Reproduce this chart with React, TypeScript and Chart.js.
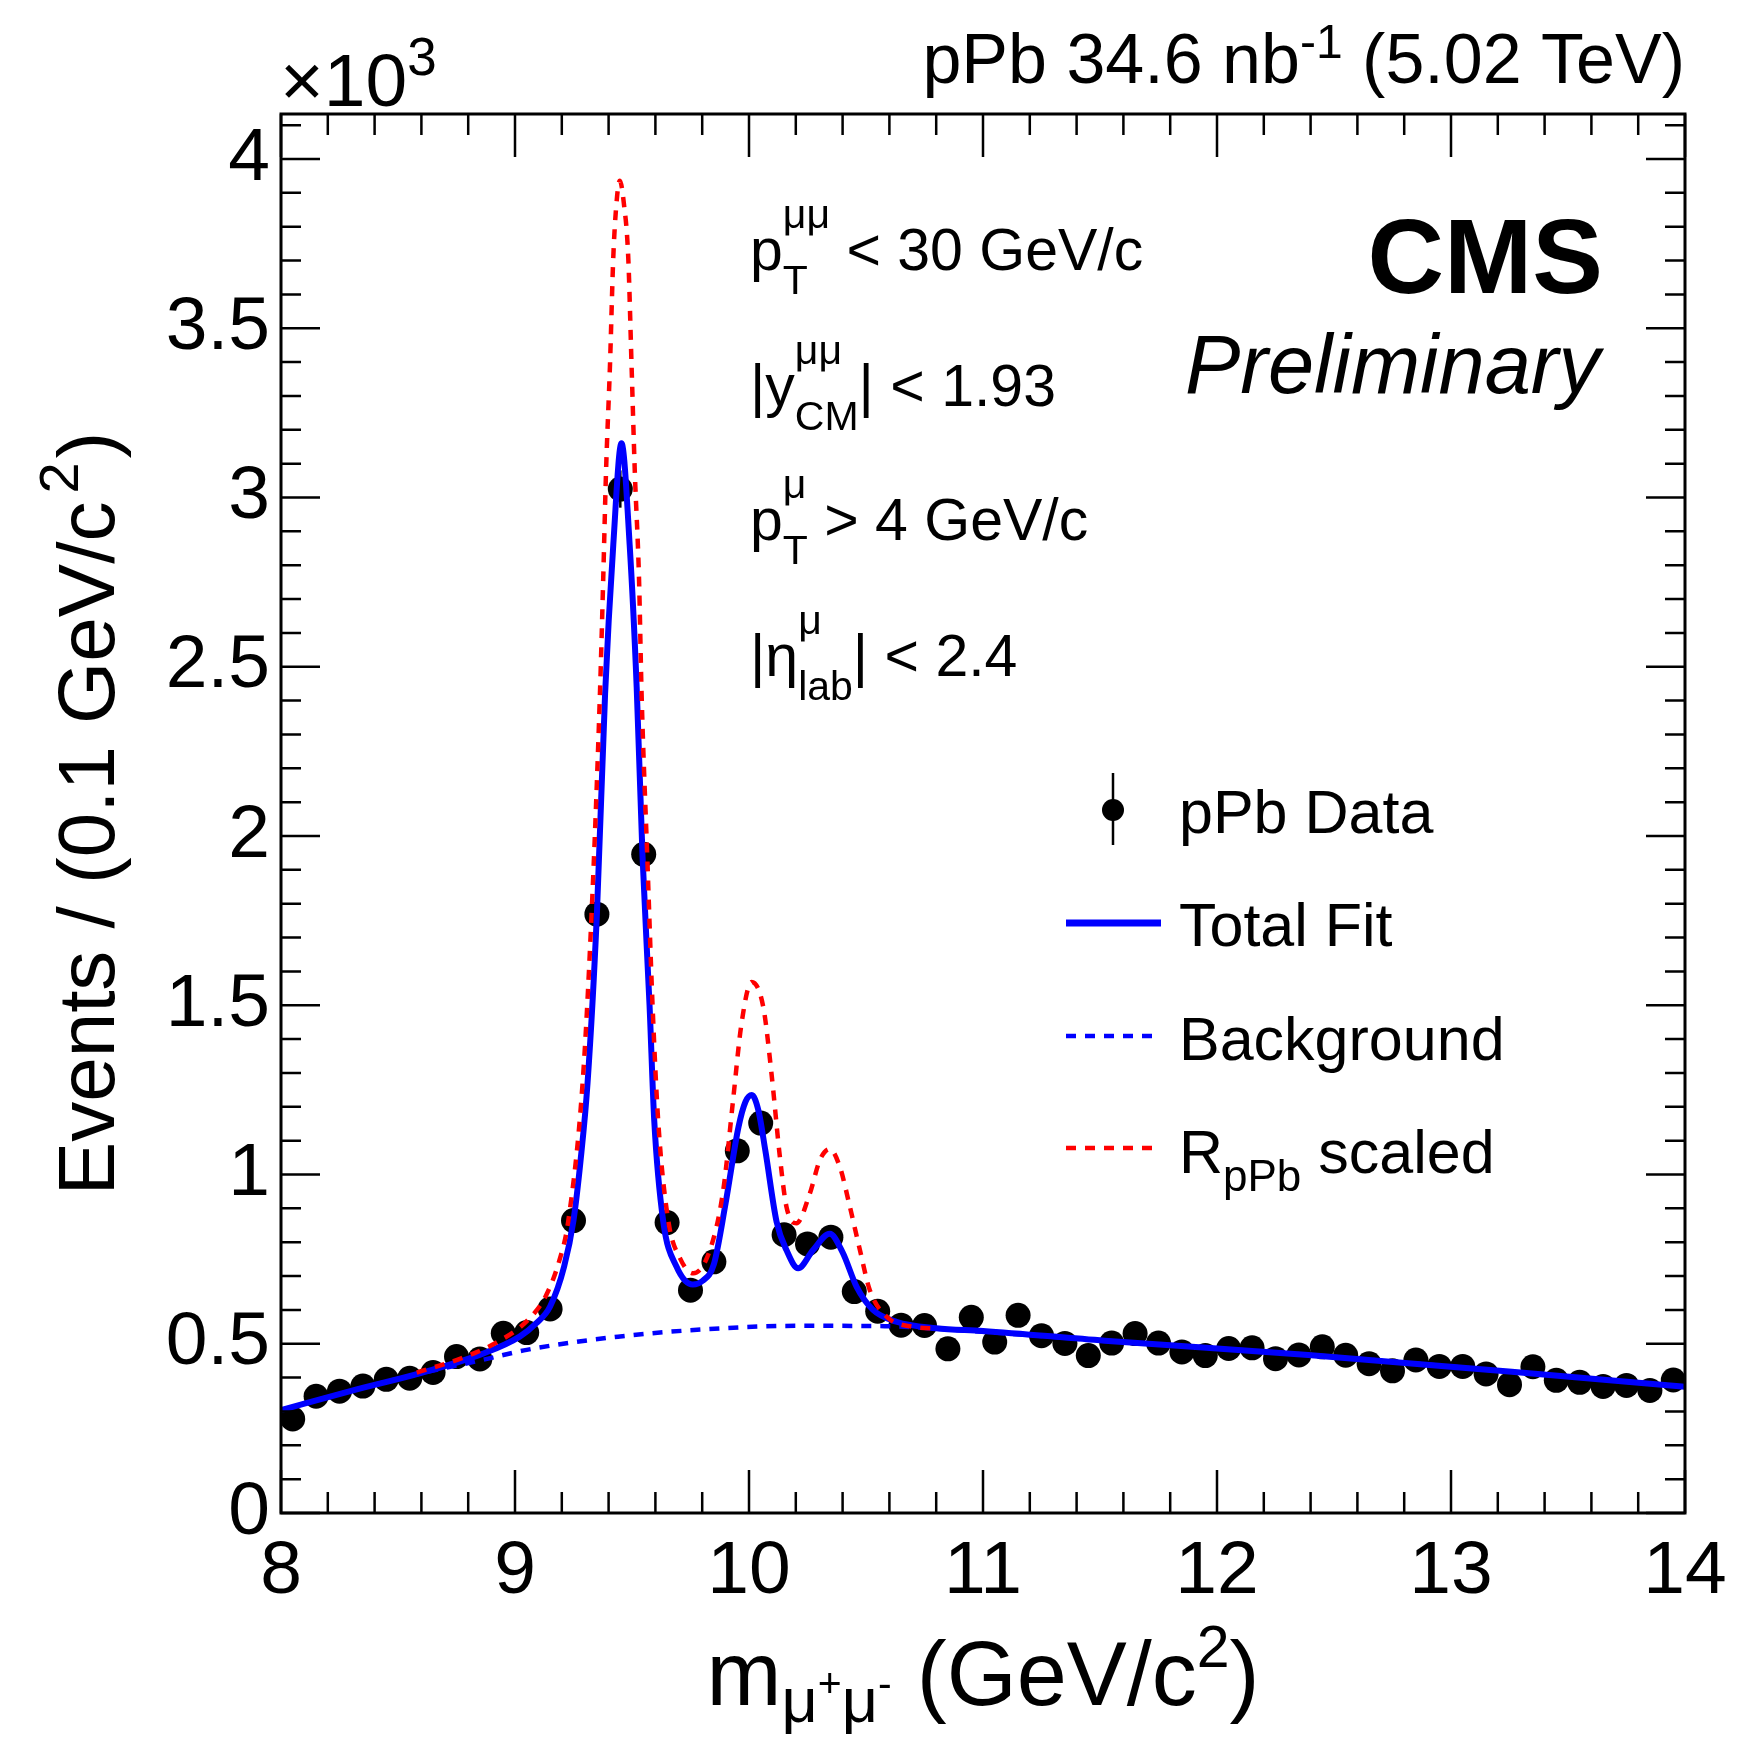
import React, { useEffect, useRef } from 'react';
import { Chart, registerables } from 'chart.js';

Chart.register(...registerables);

const FONT = '"Liberation Sans", Arial, Helvetica, sans-serif';

// ---- data (values in units of 10^3 events per 0.1 GeV/c^2) ----
const binCenters = [
  8.05, 8.15, 8.25, 8.35, 8.45, 8.55, 8.65, 8.75, 8.85, 8.95,
  9.05, 9.15, 9.25, 9.35, 9.45, 9.55, 9.65, 9.75, 9.85, 9.95,
  10.05, 10.15, 10.25, 10.35, 10.45, 10.55, 10.65, 10.75, 10.85, 10.95,
  11.05, 11.15, 11.25, 11.35, 11.45, 11.55, 11.65, 11.75, 11.85, 11.95,
  12.05, 12.15, 12.25, 12.35, 12.45, 12.55, 12.65, 12.75, 12.85, 12.95,
  13.05, 13.15, 13.25, 13.35, 13.45, 13.55, 13.65, 13.75, 13.85, 13.95,
];
const counts = [
  0.278, 0.345, 0.360, 0.375, 0.395, 0.398, 0.415, 0.462, 0.455, 0.531,
  0.533, 0.603, 0.864, 1.769, 3.025, 1.946, 0.858, 0.658, 0.742, 1.070,
  1.152, 0.822, 0.795, 0.815, 0.654, 0.596, 0.555, 0.554, 0.485, 0.578,
  0.505, 0.584, 0.524, 0.501, 0.465, 0.502, 0.530, 0.502, 0.476, 0.465,
  0.486, 0.488, 0.456, 0.467, 0.491, 0.466, 0.441, 0.420, 0.452, 0.433,
  0.433, 0.411, 0.379, 0.432, 0.392, 0.386, 0.374, 0.377, 0.362, 0.393,
];
const countErrors = [
  0.017, 0.019, 0.019, 0.019, 0.020, 0.020, 0.020, 0.021, 0.021, 0.023,
  0.023, 0.025, 0.029, 0.042, 0.055, 0.044, 0.029, 0.026, 0.027, 0.033,
  0.034, 0.029, 0.028, 0.029, 0.026, 0.024, 0.024, 0.024, 0.022, 0.024,
  0.022, 0.024, 0.023, 0.022, 0.022, 0.022, 0.023, 0.022, 0.022, 0.022,
  0.022, 0.022, 0.021, 0.022, 0.022, 0.022, 0.021, 0.020, 0.021, 0.021,
  0.021, 0.020, 0.019, 0.021, 0.020, 0.020, 0.019, 0.019, 0.019, 0.020,
];

// Total fit
const fitMass = [
  8.00, 8.30, 8.60, 8.86, 9.02, 9.09, 9.15, 9.21, 9.25, 9.28,
  9.31, 9.35, 9.385, 9.42, 9.455, 9.49, 9.52, 9.545, 9.575, 9.595,
  9.633, 9.69, 9.76, 9.80, 9.85, 9.90, 9.955, 9.985, 10.012, 10.04,
  10.07, 10.118, 10.16, 10.21, 10.274, 10.345, 10.40, 10.46, 10.53, 10.63,
  10.80, 11.00, 11.52, 12.39, 13.26, 14.00,
];
const fitValue = [
  0.304, 0.361, 0.414, 0.470, 0.521, 0.560, 0.610, 0.728, 0.865, 1.04,
  1.27, 1.77, 2.42, 2.86, 3.16, 2.86, 2.44, 1.94, 1.50, 1.16,
  0.864, 0.728, 0.675, 0.685, 0.735, 0.915, 1.14, 1.215, 1.235, 1.19,
  1.07, 0.86, 0.777, 0.723, 0.777, 0.825, 0.770, 0.668, 0.600, 0.565,
  0.546, 0.538, 0.509, 0.467, 0.417, 0.373,
];

// Background component
const bkgMass = [8.00, 8.30, 8.60, 8.86, 9.05, 9.44, 9.82, 10.20, 10.58, 10.90, 11.52, 12.39, 13.26, 14.00];
const bkgValue = [0.304, 0.361, 0.413, 0.452, 0.482, 0.521, 0.543, 0.553, 0.552, 0.540, 0.509, 0.467, 0.417, 0.373];

// R_pPb scaled curve
const scaledMass = [
  8.58, 8.77, 8.94, 9.055, 9.13, 9.19, 9.228, 9.289, 9.327, 9.363,
  9.377, 9.389, 9.406, 9.420, 9.435, 9.448, 9.465, 9.484, 9.498, 9.512,
  9.530, 9.541, 9.565, 9.588, 9.612, 9.655, 9.705, 9.762, 9.833, 9.890,
  9.932, 9.968, 10.011, 10.061, 10.096, 10.132, 10.160, 10.203, 10.260, 10.303,
  10.345, 10.388, 10.431, 10.474, 10.516, 10.588, 10.701, 10.80,
];
const scaledValue = [
  0.415, 0.457, 0.511, 0.570, 0.639, 0.747, 0.864, 1.271, 1.765, 2.42,
  2.76, 3.076, 3.393, 3.709, 3.88, 3.936, 3.87, 3.709, 3.393, 3.076,
  2.76, 2.42, 1.943, 1.497, 1.158, 0.864, 0.753, 0.708, 0.777, 0.954,
  1.220, 1.446, 1.569, 1.495, 1.299, 1.052, 0.905, 0.856, 0.944, 1.043,
  1.075, 1.023, 0.905, 0.777, 0.659, 0.580, 0.550, 0.545,
];

const xTickValues = [8, 9, 10, 11, 12, 13, 14];
const xTickLabels = ['8', '9', '10', '11', '12', '13', '14'];
const yTickValues = [0, 0.5, 1, 1.5, 2, 2.5, 3, 3.5, 4];
const yTickLabels = ['0', '0.5', '1', '1.5', '2', '2.5', '3', '3.5', '4'];

// ---- rich text helper ----
type Run = { text: string; size: number; dy?: number; dx?: number; weight?: string; style?: string };
type Stack = { sup: Run; sub: Run };
type Piece = Run | Stack;

function fontOf(r: Run) {
  return `${r.style || 'normal'} ${r.weight || 'normal'} ${r.size}px ${FONT}`;
}
function runWidth(ctx: CanvasRenderingContext2D, r: Run) {
  ctx.font = fontOf(r);
  return ctx.measureText(r.text).width + (r.dx || 0);
}
function pieceWidth(ctx: CanvasRenderingContext2D, p: Piece) {
  if ('sup' in p) return Math.max(runWidth(ctx, p.sup), runWidth(ctx, p.sub));
  return runWidth(ctx, p);
}
function drawRich(ctx: CanvasRenderingContext2D, pieces: Piece[], x: number, y: number, align: 'left' | 'right' | 'center') {
  const total = pieces.reduce((a, p) => a + pieceWidth(ctx, p), 0);
  let cx = align === 'left' ? x : align === 'right' ? x - total : x - total / 2;
  ctx.textAlign = 'left';
  ctx.textBaseline = 'alphabetic';
  ctx.fillStyle = '#000';
  for (const p of pieces) {
    if ('sup' in p) {
      const w = pieceWidth(ctx, p);
      for (const r of [p.sup, p.sub]) {
        ctx.font = fontOf(r);
        ctx.fillText(r.text, cx + (r.dx || 0), y + (r.dy || 0));
      }
      cx += w;
    } else {
      ctx.font = fontOf(p);
      ctx.fillText(p.text, cx + (p.dx || 0), y + (p.dy || 0));
      cx += runWidth(ctx, p);
    }
  }
}

const decorPlugin = {
  id: 'decor',
  beforeDatasetsDraw(chart: any) {
    const { ctx, scales } = chart;
    const xs = scales.x, ys = scales.y;
    ctx.save();
    ctx.strokeStyle = '#000';
    ctx.lineWidth = 2.5;
    for (let i = 0; i < binCenters.length; i++) {
      const px = xs.getPixelForValue(binCenters[i]);
      ctx.beginPath();
      ctx.moveTo(px, ys.getPixelForValue(counts[i] - countErrors[i]));
      ctx.lineTo(px, ys.getPixelForValue(counts[i] + countErrors[i]));
      ctx.stroke();
    }
    ctx.restore();
  },
  afterDraw(chart: any) {
    const { ctx, chartArea: a, scales } = chart;
    const xs = scales.x, ys = scales.y;
    ctx.save();
    // frame
    ctx.strokeStyle = '#000';
    ctx.lineWidth = 3;
    ctx.strokeRect(a.left, a.top, a.right - a.left, a.bottom - a.top);
    // inward ticks
    ctx.lineWidth = 2.5;
    ctx.beginPath();
    for (let k = 0; k <= 30; k++) {
      const v = 8 + k * 0.2;
      const px = xs.getPixelForValue(v);
      const len = k % 5 === 0 ? 43 : 21;
      ctx.moveTo(px, a.bottom); ctx.lineTo(px, a.bottom - len);
      ctx.moveTo(px, a.top); ctx.lineTo(px, a.top + len);
    }
    for (let k = 0; k <= 41; k++) {
      const v = k * 0.1;
      const py = ys.getPixelForValue(v);
      const len = k % 5 === 0 ? 39 : 20;
      ctx.moveTo(a.left, py); ctx.lineTo(a.left + len, py);
      ctx.moveTo(a.right, py); ctx.lineTo(a.right - len, py);
    }
    ctx.stroke();

    // axis titles
    drawRich(ctx, [
      { text: 'm', size: 90 },
      { text: 'μ', size: 63, dy: 17 },
      { text: '+', size: 41, dy: -8 },
      { text: 'μ', size: 63, dy: 17 },
      { text: '-', size: 41, dy: -8 },
      { text: ' (GeV/c', size: 90 },
      { text: '2', size: 59, dy: -38 },
      { text: ')', size: 90 },
    ], (a.left + a.right) / 2, 1705, 'center');

    ctx.save();
    ctx.translate(114, (a.top + a.bottom) / 2);
    ctx.rotate(-Math.PI / 2);
    drawRich(ctx, [
      { text: 'Events / (0.1 GeV/c', size: 80 },
      { text: '2', size: 56, dy: -36, dx: 8 },
      { text: ')', size: 80, dx: 4 },
    ], 0, 0, 'center');
    ctx.restore();

    // exponent and header
    drawRich(ctx, [
      { text: '×10', size: 75 },
      { text: '3', size: 53, dy: -31 },
    ], 280, 106, 'left');
    drawRich(ctx, [
      { text: 'pPb 34.6 nb', size: 70 },
      { text: '-1', size: 48, dy: -25 },
      { text: ' (5.02 TeV)', size: 70 },
    ], a.right, 83, 'right');

    // CMS label
    drawRich(ctx, [{ text: 'CMS', size: 106, weight: 'bold' }], 1603, 293, 'right');
    drawRich(ctx, [{ text: 'Preliminary', size: 83, style: 'italic' }], 1600, 393, 'right');

    // selection annotations
    const F = 59, S = 41;
    const sup = (t: string): Run => ({ text: t, size: S, dy: -42 });
    const sub = (t: string): Run => ({ text: t, size: S, dy: 24 });
    drawRich(ctx, [{ text: 'p', size: F }, { sup: sup('μμ'), sub: sub('T') }, { text: ' < 30 GeV/c', size: F }], 750, 270, 'left');
    drawRich(ctx, [{ text: '|y', size: F }, { sup: sup('μμ'), sub: sub('CM') }, { text: '| < 1.93', size: F }], 750, 406, 'left');
    drawRich(ctx, [{ text: 'p', size: F }, { sup: sup('μ'), sub: sub('T') }, { text: ' > 4 GeV/c', size: F }], 750, 540, 'left');
    drawRich(ctx, [{ text: '|η', size: F }, { sup: sup('μ'), sub: sub('lab') }, { text: '| < 2.4', size: F }], 750, 676, 'left');

    // legend
    const LF = 61, tx = 1179;
    ctx.strokeStyle = '#000';
    ctx.lineWidth = 2.5;
    ctx.beginPath(); ctx.moveTo(1113, 773); ctx.lineTo(1113, 845); ctx.stroke();
    ctx.fillStyle = '#000';
    ctx.beginPath(); ctx.arc(1113, 810, 11, 0, Math.PI * 2); ctx.fill();
    drawRich(ctx, [{ text: 'pPb Data', size: LF }], tx, 833, 'left');

    ctx.strokeStyle = '#0000ff';
    ctx.lineWidth = 7;
    ctx.beginPath(); ctx.moveTo(1066, 923); ctx.lineTo(1161, 923); ctx.stroke();
    drawRich(ctx, [{ text: 'Total Fit', size: LF }], tx, 946, 'left');

    ctx.lineWidth = 4.5;
    ctx.setLineDash([10, 9]);
    ctx.beginPath(); ctx.moveTo(1066, 1036); ctx.lineTo(1155, 1036); ctx.stroke();
    drawRich(ctx, [{ text: 'Background', size: LF }], tx, 1060, 'left');

    ctx.strokeStyle = '#ff0000';
    ctx.beginPath(); ctx.moveTo(1066, 1148); ctx.lineTo(1155, 1148); ctx.stroke();
    ctx.setLineDash([]);
    drawRich(ctx, [{ text: 'R', size: LF }, { text: 'pPb', size: 44, dy: 18 }, { text: ' scaled', size: LF }], tx, 1173, 'left');

    ctx.restore();
  },
};

export default function App() {
  const ref = useRef<HTMLCanvasElement>(null);
  useEffect(() => {
    if (!ref.current) return;
    const tickFont = { family: FONT, size: 75 };
    const chart = new Chart(ref.current, {
      type: 'scatter',
      data: {
        datasets: [
          {
            label: 'pPb Data',
            data: binCenters.map((x, i) => ({ x, y: counts[i] })),
            pointRadius: 12.5,
            pointHoverRadius: 12.5,
            pointBackgroundColor: '#000',
            pointBorderWidth: 0,
            showLine: false,
            order: 4,
          },
          {
            label: 'Background',
            data: bkgMass.map((x, i) => ({ x, y: bkgValue[i] })),
            showLine: true,
            pointRadius: 0,
            borderColor: '#0000ff',
            borderWidth: 4.5,
            borderDash: [10, 9],
            cubicInterpolationMode: 'monotone',
            fill: false,
            order: 3,
          },
          {
            label: 'Total Fit',
            data: fitMass.map((x, i) => ({ x, y: fitValue[i] })),
            showLine: true,
            pointRadius: 0,
            borderColor: '#0000ff',
            borderWidth: 6,
            cubicInterpolationMode: 'monotone',
            fill: false,
            order: 2,
          },
          {
            label: 'RpPb scaled',
            data: scaledMass.map((x, i) => ({ x, y: scaledValue[i] })),
            showLine: true,
            pointRadius: 0,
            borderColor: '#ff0000',
            borderWidth: 4.5,
            borderDash: [10, 9],
            cubicInterpolationMode: 'monotone',
            fill: false,
            order: 1,
          },
        ],
      },
      options: {
        animation: false,
        responsive: false,
        devicePixelRatio: 1,
        events: [],
        layout: { padding: { left: 0, top: 114, right: 57, bottom: 0 } },
        plugins: { legend: { display: false }, tooltip: { enabled: false } },
        scales: {
          x: {
            type: 'linear',
            min: 8,
            max: 14,
            afterBuildTicks: (s: any) => { s.ticks = xTickValues.map((value) => ({ value })); },
            afterFit: (s: any) => { s.height = 228; },
            grid: { display: false, drawTicks: false },
            border: { display: false },
            ticks: {
              font: tickFont,
              color: '#000',
              padding: 14,
              maxRotation: 0,
              autoSkip: false,
              includeBounds: false,
              callback: (_v: any, i: number) => xTickLabels[i],
            },
          },
          y: {
            type: 'linear',
            min: 0,
            max: 4.133,
            afterBuildTicks: (s: any) => { s.ticks = yTickValues.map((value) => ({ value })); },
            afterFit: (s: any) => { s.width = 281; },
            grid: { display: false, drawTicks: false },
            border: { display: false },
            ticks: {
              font: tickFont,
              color: '#000',
              padding: 11,
              autoSkip: false,
              includeBounds: false,
              callback: (_v: any, i: number) => yTickLabels[i],
            },
          },
        },
      } as any,
      plugins: [decorPlugin],
    });
    return () => chart.destroy();
  }, []);

  return (
    <div style={{ position: 'absolute', left: 0, top: 0, width: 1742, height: 1741, background: '#fff' }}>
      <canvas ref={ref} width={1742} height={1741} style={{ display: 'block', width: 1742, height: 1741 }} />
    </div>
  );
}
